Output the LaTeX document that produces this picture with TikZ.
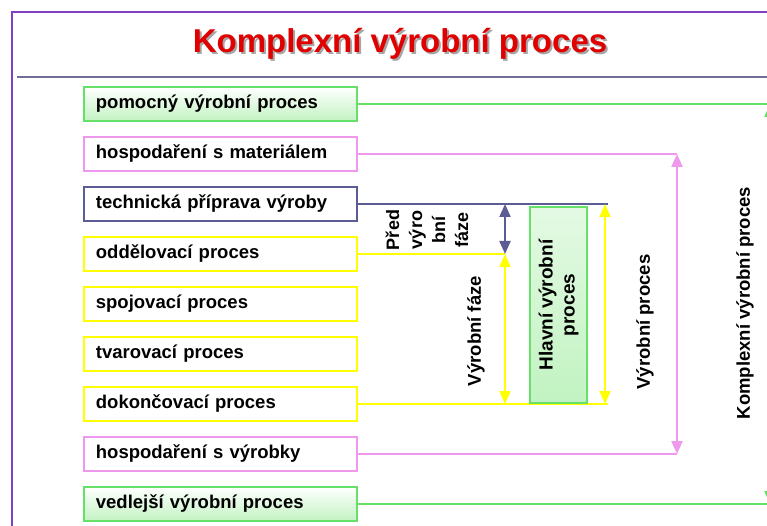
\documentclass[tikz,border=0pt]{standalone}
\usepackage{fontspec}
\setmainfont{Liberation Sans}
\usetikzlibrary{arrows.meta}
\definecolor{framepurple}{HTML}{7F3FBF}
\definecolor{rulegrey}{HTML}{6E6E96}
\definecolor{titlered}{HTML}{E00000}
\definecolor{lgreen}{HTML}{66E066}
\definecolor{lpink}{HTML}{EE99EE}
\definecolor{slate}{HTML}{5C5C94}
\definecolor{lyellow}{HTML}{FFFF00}
\newcommand{\headingtext}{Komplexní výrobní proces}

\begin{document}
\begin{tikzpicture}[x=1pt,y=-1pt,
  txt/.style={font=\bfseries\fontsize{18.5}{23}\selectfont},
  procbox/.style={draw=#1, line width=1.8pt, anchor=west, minimum height=34pt,
    text width=249pt, inner xsep=12pt, inner ysep=0pt, align=left, txt},
  greenbox/.style={procbox=lgreen, top color=white, bottom color=lgreen!40},
  conn/.style={line width=2pt},
  span/.style={line width=2pt, {Triangle[width=11pt,length=13pt]}-{Triangle[width=11pt,length=13pt]}},
  vlabel/.style={txt, rotate=90, align=center}
]
\useasboundingbox (0,0) rectangle (767,526);
\clip (0,0) rectangle (767,526);
\fill[white] (0,0) rectangle (767,526);

% outer frame and heading rule
\draw[framepurple, line width=2pt] (12,540) -- (12,12) -- (780,12);
\draw[rulegrey, line width=2pt] (17,77) -- (780,77);

% heading, set over its soft shadow
\node[font=\bfseries\fontsize{33}{36}\selectfont] (title) at (400,45)
  {\rlap{\kern2pt\raisebox{-2pt}{\textcolor{black!35}{\headingtext}}}\textcolor{titlered}{\headingtext}};

% process boxes
\node[greenbox] (b1) at (83,104) {pomocný výrobní proces};
\node[procbox=lpink] (b2) at (83,154) {hospodaření s materiálem};
\node[procbox=slate] (b3) at (83,204) {technická příprava výroby};
\node[procbox=lyellow] (b4) at (83,254) {oddělovací proces};
\node[procbox=lyellow] (b5) at (83,304) {spojovací proces};
\node[procbox=lyellow] (b6) at (83,354) {tvarovací proces};
\node[procbox=lyellow] (b7) at (83,404) {dokončovací proces};
\node[procbox=lpink] (b8) at (83,454) {hospodaření s výrobky};
\node[greenbox] (b9) at (83,504) {vedlejší výrobní proces};

% columns of the span arrows
\coordinate (cphase) at (505,0);
\coordinate (cmain) at (605,0);
\coordinate (cmainend) at (608,0);
\coordinate (cprod) at (677,0);
\coordinate (cfull) at (770,0);

% named corner points
\coordinate (p3) at (b3.east -| cphase);
\coordinate (p4) at (b4.east -| cphase);
\coordinate (p7) at (b7.east -| cphase);
\coordinate (m3) at (b3.east -| cmain);
\coordinate (m7) at (b7.east -| cmain);
\coordinate (r2) at (b2.east -| cprod);
\coordinate (r8) at (b8.east -| cprod);
\coordinate (f1) at (b1.east -| cfull);
\coordinate (f9) at (b9.east -| cfull);

% leader lines from the boxes
\draw[conn, lgreen] (b1.east) -- (f1) -- ++(20,0);
\draw[conn, lgreen] (b9.east) -- (f9) -- ++(20,0);
\draw[conn, lpink] (b2.east) -- (r2);
\draw[conn, lpink] (b8.east) -- (r8);
\draw[conn, slate] (b3.east) -- (b3.east -| cmainend);
\draw[conn, lyellow] (b4.east) -- (p4);
\draw[conn, lyellow] (b7.east) -- (b7.east -| cmainend);

% span arrows
\draw[span, slate] (p3) -- (p4);
\draw[span, lyellow] (p4) -- (p7);
\draw[span, lyellow] (m3) -- (m7);
\draw[span, lpink] (r2) -- (r8);
\draw[span, lgreen] (f1) -- (f9);

% main process box
\node[draw=lgreen, line width=1.8pt, top color=lgreen!18, bottom color=lgreen!40,
  minimum width=57pt, minimum height=196pt, inner sep=0pt] (main) at (558.5,305) {};
\node[vlabel, font=\bfseries\fontsize{19}{22}\selectfont] (mainlbl) at (main.center) {Hlavní výrobní\\proces};

% span labels
\node[vlabel, font=\bfseries\fontsize{18}{23}\selectfont] (prephase) at (427,230) {Před\\výro\\bní\\fáze};
\node[vlabel] (prodphase) at (476,331) {Výrobní fáze};
\node[vlabel] (prodproc) at (645,322) {Výrobní proces};
\node[vlabel] (fullproc) at (745,303) {Komplexní výrobní proces};
\end{tikzpicture}
\end{document}
